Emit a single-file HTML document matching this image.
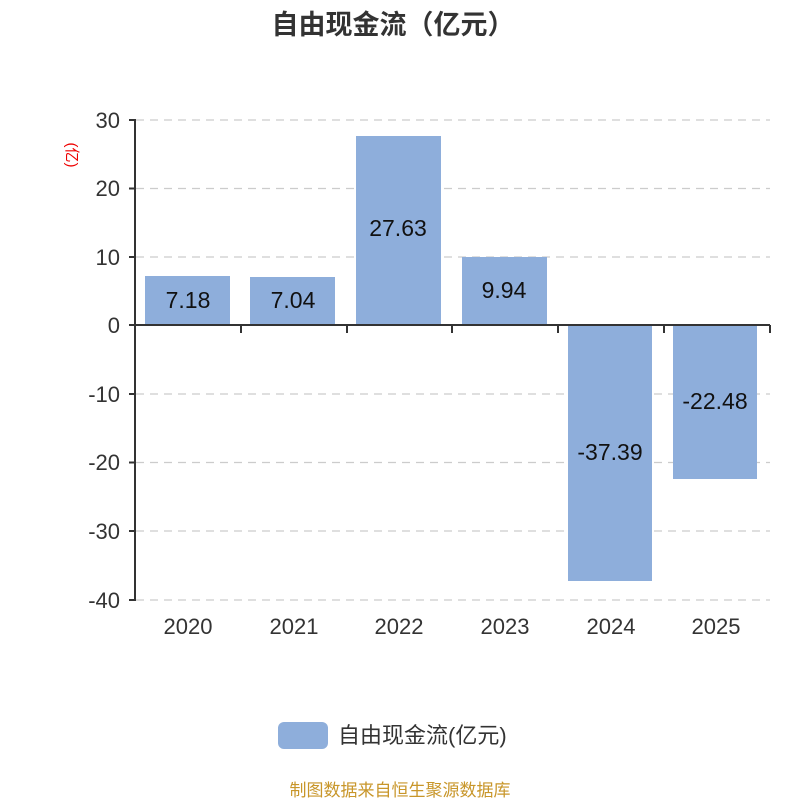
<!DOCTYPE html>
<html><head><meta charset="utf-8"><style>
body{margin:0;background:#fff;width:800px;height:800px;overflow:hidden}
svg text{font-family:"Liberation Sans","Noto Sans CJK SC",sans-serif}
</style></head><body>
<svg width="800" height="800" xmlns="http://www.w3.org/2000/svg">
<text x="393" y="34" text-anchor="middle" font-size="27" font-weight="bold" fill="#333">自由现金流（亿元）</text>
<g stroke="#ccc" stroke-width="1.3" stroke-dasharray="8,6">
<line x1="136" y1="120" x2="770" y2="120"/>
<line x1="136" y1="188.5" x2="770" y2="188.5"/>
<line x1="136" y1="257" x2="770" y2="257"/>
<line x1="136" y1="394" x2="770" y2="394"/>
<line x1="136" y1="462.5" x2="770" y2="462.5"/>
<line x1="136" y1="531" x2="770" y2="531"/>
<line x1="136" y1="600" x2="770" y2="600"/>
</g>
<g fill="#8eaedb">
<rect x="145" y="276" width="85" height="49"/>
<rect x="250" y="277" width="85" height="48"/>
<rect x="356" y="136" width="85" height="189"/>
<rect x="462" y="257" width="85" height="68"/>
<rect x="568" y="325" width="84" height="256"/>
<rect x="673" y="325" width="84" height="154"/>
</g>
<g stroke="#333" stroke-width="2" fill="none">
<line x1="135" y1="119" x2="135" y2="601"/>
<line x1="129" y1="120" x2="135" y2="120"/>
<line x1="129" y1="188.5" x2="135" y2="188.5"/>
<line x1="129" y1="257" x2="135" y2="257"/>
<line x1="129" y1="325" x2="135" y2="325"/>
<line x1="129" y1="394" x2="135" y2="394"/>
<line x1="129" y1="462.5" x2="135" y2="462.5"/>
<line x1="129" y1="531" x2="135" y2="531"/>
<line x1="129" y1="600" x2="135" y2="600"/>
<line x1="135" y1="325" x2="770" y2="325"/>
<line x1="241" y1="325" x2="241" y2="333"/>
<line x1="347" y1="325" x2="347" y2="333"/>
<line x1="452" y1="325" x2="452" y2="333"/>
<line x1="558" y1="325" x2="558" y2="333"/>
<line x1="664" y1="325" x2="664" y2="333"/>
<line x1="770" y1="325" x2="770" y2="333"/>
</g>
<g font-size="22" fill="#333" text-anchor="end">
<text x="120" y="128">30</text>
<text x="120" y="196">20</text>
<text x="120" y="265">10</text>
<text x="120" y="333">0</text>
<text x="120" y="402">-10</text>
<text x="120" y="470">-20</text>
<text x="120" y="539">-30</text>
<text x="120" y="608">-40</text>
</g>
<text transform="translate(67,155) rotate(90)" text-anchor="middle" font-size="15" fill="#e00">(亿)</text>
<g font-size="22" fill="#333" text-anchor="middle">
<text x="188" y="634">2020</text>
<text x="294" y="634">2021</text>
<text x="399" y="634">2022</text>
<text x="505" y="634">2023</text>
<text x="611" y="634">2024</text>
<text x="716" y="634">2025</text>
</g>
<g font-size="23" fill="#111" text-anchor="middle">
<text x="188" y="308">7.18</text>
<text x="293" y="308">7.04</text>
<text x="398" y="236">27.63</text>
<text x="504" y="298">9.94</text>
<text x="610" y="460">-37.39</text>
<text x="715" y="409">-22.48</text>
</g>
<rect x="278" y="722" width="50" height="27" rx="6" fill="#8eaedb"/>
<text x="338" y="743" font-size="22" fill="#333">自由现金流(亿元)</text>
<text x="400" y="796" text-anchor="middle" font-size="17" fill="#c8962a">制图数据来自恒生聚源数据库</text>
</svg>
</body></html>
